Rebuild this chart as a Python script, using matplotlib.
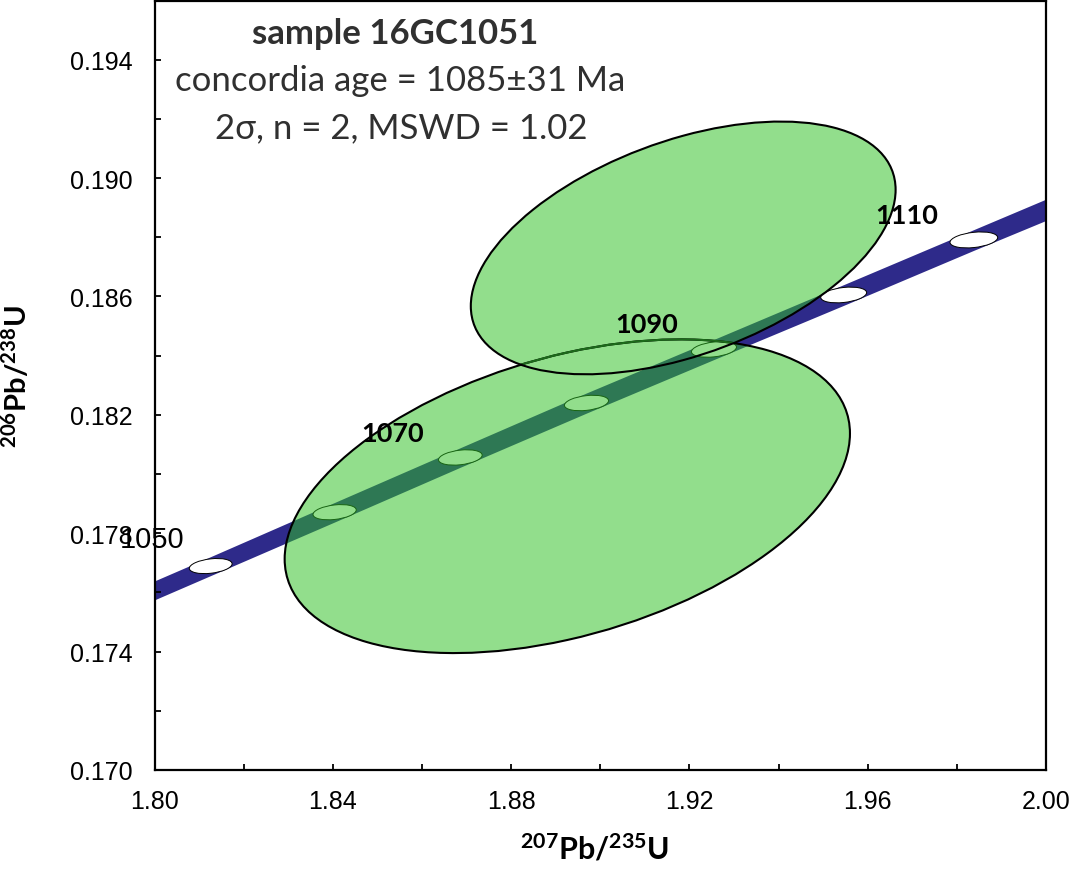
import matplotlib
matplotlib.use('Agg')
import matplotlib.pyplot as plt
import numpy as np
from matplotlib.patches import PathPatch
from matplotlib.path import Path
from matplotlib.transforms import Affine2D

plt.rcParams['mathtext.fontset'] = 'custom'
plt.rcParams['mathtext.rm'] = 'Lato'
plt.rcParams['mathtext.bf'] = 'Lato:bold'

# concordia age markers (Ma), centres
ages = [1050, 1060, 1070, 1080, 1090, 1100, 1110]
age_x = [1.8126, 1.8404, 1.8686, 1.8969, 1.9255, 1.9546, 1.9838]
age_y = [0.17689, 0.17871, 0.18056, 0.18240, 0.18421, 0.18605, 0.18791]
age_hx = [0.00480, 0.00485, 0.00490, 0.00495, 0.00505, 0.00515, 0.00535]
age_hy = [0.000255, 0.000257, 0.000259, 0.000261, 0.000263, 0.000266, 0.000270]
bold_labels = [1070, 1090, 1110]
plain_labels = [1050]

# concordia band: centre line and vertical half thickness
band_x = [1.80] + age_x + [2.00]
band_y = [0.17607] + age_y + [0.18893]
band_half = [0.00032, 0.00032, 0.00033, 0.00033, 0.00034, 0.00034, 0.00035, 0.00035, 0.00036]

# data-point error ellipses: centre, half extent in x and y (2 sigma), correlation
ell_cx = [1.8926, 1.9186]
ell_cy = [0.17925, 0.18764]
ell_hx = [0.06341, 0.04765]
ell_hy = [0.00530, 0.00427]
ell_rho = [0.40, 0.46]

x_major = [1.80, 1.84, 1.88, 1.92, 1.96, 2.00]
x_minor = [1.82, 1.86, 1.90, 1.94, 1.98]
y_major = [0.170, 0.174, 0.178, 0.182, 0.186, 0.190, 0.194]
y_minor = [0.172, 0.176, 0.180, 0.184, 0.188, 0.192]

navy = '#2e2a8a'
green = (46 / 255, 192 / 255, 35 / 255, 0.52)
txt_grey = '#303030'


def ellipse_path(cx, cy, hx, hy, rho):
    m = np.array([[hx, 0, cx], [hy * rho, hy * np.sqrt(1 - rho ** 2), cy], [0, 0, 1]])
    return Affine2D(m).transform_path(Path.unit_circle())


fig = plt.figure(figsize=(10.71, 8.87), dpi=100)
ax = fig.add_axes([0.1443, 0.1308, 0.8324, 0.8675])
ax.set_xlim(1.80, 2.00)
ax.set_ylim(0.170, 0.196)

# concordia band
lower = np.array(band_y) - np.array(band_half)
upper = np.array(band_y) + np.array(band_half)
ax.fill_between(band_x, lower, upper, color=navy, lw=0, zorder=1)

# age markers
for i in range(len(ages)):
    p = ellipse_path(age_x[i], age_y[i], age_hx[i], age_hy[i], 0.3)
    ax.add_patch(PathPatch(p, fc='white', ec='black', lw=0.7, zorder=2))

# error ellipses, filled as one shape so the overlap is not darker
paths = [ellipse_path(ell_cx[i], ell_cy[i], ell_hx[i], ell_hy[i], ell_rho[i]) for i in range(2)]
ax.add_patch(PathPatch(Path.make_compound_path(*paths), fc=green, lw=0, zorder=3))
ax.add_patch(PathPatch(paths[0], fc='none', ec='black', lw=1.5, zorder=4))
inner = PathPatch(paths[0], fc='none', ec='#1c6a1a', lw=1.5, zorder=4.5)
ax.add_patch(inner)
inner.set_clip_path(PathPatch(paths[1], transform=ax.transData))
ax.add_patch(PathPatch(paths[1], fc='none', ec='black', lw=1.5, zorder=5))

# age labels
for a in bold_labels:
    i = ages.index(a)
    ax.annotate(str(a), (age_x[i], age_y[i]), xytext=(-48.5, 12.2), textcoords='offset points',
                ha='center', va='baseline', fontsize=19.5, fontweight='bold', family='Lato', zorder=6)
for a in plain_labels:
    i = ages.index(a)
    ax.annotate(str(a), (age_x[i], age_y[i]), xytext=(-42.5, 13.7), textcoords='offset points',
                ha='center', va='baseline', fontsize=21, family='Liberation Sans', zorder=6,
                annotation_clip=False)

ax.set_xticks(x_major)
ax.set_xticks(x_minor, minor=True)
ax.set_yticks(y_major)
ax.set_yticks(y_minor, minor=True)
ax.set_xticklabels(['%.2f' % v for v in x_major])
ax.set_yticklabels(['%.3f' % v for v in y_major])
ax.tick_params(which='both', direction='in', length=4, width=1.3)
ax.tick_params(axis='x', which='major', pad=14)
ax.tick_params(axis='y', which='major', pad=16)
for lab in ax.get_xticklabels() + ax.get_yticklabels():
    lab.set_family('Liberation Sans')
    lab.set_fontsize(18)
for s in ax.spines.values():
    s.set_linewidth(1.6)

fig.text(17 / 1071, 1 - 377 / 887, r'$\mathbf{^{206}Pb/^{238}U}$', rotation=90,
         ha='center', va='center', fontsize=21)
fig.text(595 / 1071, 1 - 850 / 887, r'$\mathbf{^{207}Pb/^{235}U}$',
         ha='center', va='center', fontsize=22)

fig.text(395 / 1071, 1 - 44 / 887, 'sample 16GC1051', ha='center', va='baseline',
         fontsize=25, fontweight='bold', family=['Lato', 'DejaVu Sans'], color=txt_grey)
fig.text(400 / 1071, 1 - 91 / 887, 'concordia age = 1085±31 Ma', ha='center', va='baseline',
         fontsize=25, family=['Lato', 'DejaVu Sans'], color=txt_grey)
fig.text(401 / 1071, 1 - 138 / 887, '2σ, n = 2, MSWD = 1.02', ha='center', va='baseline',
         fontsize=25, family=['Lato', 'DejaVu Sans'], color=txt_grey)

fig.savefig('out.png', dpi=100)
